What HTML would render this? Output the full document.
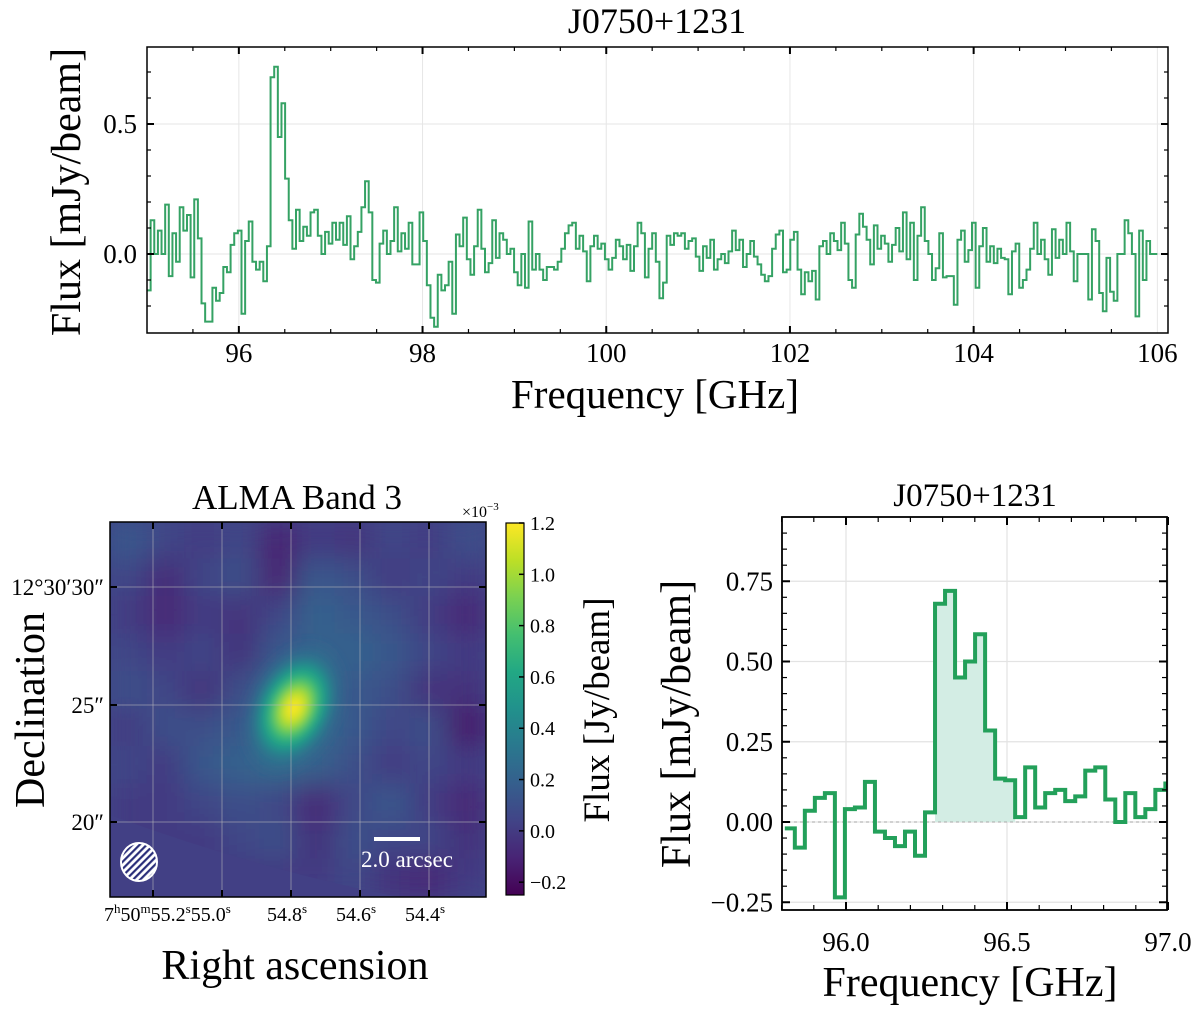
<!DOCTYPE html>
<html><head><meta charset="utf-8">
<style>
html,body{margin:0;padding:0;background:#fff;}
svg{display:block;font-family:"Liberation Serif",serif;}
</style></head>
<body>
<svg id="fig" width="1200" height="1011" viewBox="0 0 1200 1011" xmlns="http://www.w3.org/2000/svg">
<defs>
<clipPath id="clipTop"><rect x="147" y="47" width="1021" height="286"/></clipPath>
<clipPath id="clipBR"><rect x="782" y="517" width="385" height="393"/></clipPath>
<clipPath id="clipImg"><rect x="110" y="522" width="376" height="375"/></clipPath>
<filter id="blur" x="-10%" y="-10%" width="120%" height="120%"><feGaussianBlur stdDeviation="14"/></filter>
<filter id="blur2" x="-50%" y="-50%" width="200%" height="200%"><feGaussianBlur stdDeviation="4"/></filter>
<linearGradient id="cbGrad" x1="0" y1="1" x2="0" y2="0"></linearGradient>
<radialGradient id="blobGrad"></radialGradient>
<pattern id="hatch" width="5" height="5" patternUnits="userSpaceOnUse" patternTransform="rotate(45)"><rect width="5" height="5" fill="#fff"/><rect width="2.2" height="5" fill="#2b2f7a"/></pattern>
</defs>
<g id="top"></g>
<g id="img"></g>
<g id="br"></g>
</svg>
<script>
// ---- data ----
const topFreqStart = 95.0;
const topFreqEnd = 106.0;
const topValuesLow = [-0.14,0.13,0,0.09,0,0.19,-0.085,0.08,-0.03,0.18,0.09,0.15,-0.09,0.21,0.06,-0.19,-0.26,-0.26,-0.13,-0.18,-0.15,-0.05,-0.07,0.035,0.08,0.09,-0.23,0.05,0.125,-0.03,-0.06,-0.03,-0.105,0.03,0.68,0.72,0.45,0.58,0.29,0.13,0.02,0.17,0.05,0.105,0.07,0.16,0.17,0.07,0,0.085,0.04,0.12,0.055,0.12,0.035,0.145,-0.02,0.03,0.085,0.18,0.28,0.16,-0.1,-0.11,0.04,0.09,0,0.05,0.18,0.01,0.08,0.02,0.12,-0.04,-0.04,0.16,0.05,-0.12,-0.245,-0.28,-0.08,-0.14,-0.12,-0.03,-0.23,0.075,0.03,0.14,-0.02,-0.08,0.03,0.17,0.02,-0.07,-0.035,0.13,-0.015,0.08,0.055,0,0.02,-0.07,-0.12,0,-0.13,0.125,-0.06,0,-0.06,-0.1,-0.05,-0.05,-0.06,-0.03,0.02,0.08,0.11,0.12,0.02,0.07,0.01,-0.105,0.03,0.07,0.02,0.04,-0.02,-0.06,-0.015,0.055,0.03,-0.02,0.035,-0.065,0.03,0.12,0.08,-0.09,0.02,0.08,-0.03,-0.17,-0.11,0.07,0.035,0.08];
const topValuesHigh = [0.07,0.08,0.02,0.05,0.06,-0.01,-0.065,0.03,-0.015,0.055,-0.06,-0.02,0,-0.035,0.01,0.09,0.015,0.055,-0.05,0,0.05,-0.01,-0.04,-0.08,-0.105,-0.085,0.02,0.075,0.09,-0.07,-0.06,0.055,0.085,-0.06,-0.155,-0.07,-0.105,-0.065,-0.175,0.03,0.05,0,0.08,0.05,0.015,0.12,0.04,-0.1,-0.13,0.075,0.155,0.105,0.055,-0.04,0.11,0.02,0.07,0.04,-0.03,0.035,0.1,0.01,0.16,-0.02,0.12,-0.1,0.07,0.18,0.05,0,-0.1,-0.055,0.08,-0.09,-0.085,-0.085,-0.195,0.055,0.09,-0.03,0.015,0.12,-0.13,0.03,0.1,-0.03,0.03,-0.035,0.02,-0.015,-0.02,-0.155,0.01,0.04,-0.13,-0.1,-0.06,0.02,0.12,0,0.055,-0.02,-0.08,0.095,-0.015,0.055,0,0.12,0.01,-0.105,0,0,0,-0.175,0.095,0.05,-0.15,-0.22,-0.015,-0.145,-0.18,0,0,0.13,0.08,0,-0.24,0.09,-0.1,0.05,0,0];
const topXTicks = [96,98,100,102,104,106];
const topYTicks = [0.0,0.5];

const zoomFreqStart = 95.81;
const zoomChanWidth = 0.0311;
const zoomValues = [-0.02,-0.08,0.035,0.075,0.09,-0.235,0.04,0.045,0.125,-0.03,-0.05,-0.075,-0.03,-0.105,0.03,0.68,0.72,0.45,0.5,0.585,0.285,0.135,0.13,0.015,0.17,0.045,0.09,0.1,0.065,0.08,0.16,0.17,0.07,0,0.09,0.015,0.04,0.1,0.12];
const zoomLineStart = 15;
const zoomLineEnd = 22;
const zoomXTicks = [96.0,96.5,97.0];
const zoomYTicks = [-0.25,0,0.25,0.5,0.75];

const imgGrid = [
 [0.15,0.05,0.0,0.05,-0.12,0.0,-0.05,0.05,0.0,0.1],
 [0.05,-0.08,0.05,0.1,-0.12,0.15,0.1,0.0,0.05,0.0],
 [0.0,-0.1,0.0,-0.05,0.05,0.2,0.15,0.1,0.0,-0.1],
 [0.05,0.0,0.05,-0.05,0.15,0.2,0.2,0.15,0.05,0.0],
 [0.1,0.05,-0.05,0.1,0.22,0.22,0.15,0.1,-0.05,-0.05],
 [0.0,0.1,0.1,0.15,0.25,0.25,0.15,0.05,0.1,-0.15],
 [0.05,0.0,0.15,0.2,0.25,0.2,0.1,0.0,0.05,0.0],
 [0.0,0.0,0.05,0.1,0.05,-0.1,0.05,0.15,0.0,-0.1],
 [0.0,0.0,0.0,0.05,0.1,-0.05,0.1,0.05,0.05,-0.05],
 [0.0,0.0,0.0,0.0,0.0,0.0,0.05,-0.05,-0.1,0.0]
];
const imgPeak = 1.2;
const cbTicks = [-0.2,0.0,0.2,0.4,0.6,0.8,1.0,1.2];

// ---- helpers ----
const NS="http://www.w3.org/2000/svg";
function mk(parent,tag,attrs,text){const e=document.createElementNS(NS,tag);for(const k in attrs)e.setAttribute(k,attrs[k]);if(text!==undefined)e.textContent=text;parent.appendChild(e);return e;}
const vir=["#440154","#482475","#414487","#355f8d","#2a788e","#21918c","#22a884","#44bf70","#7ad151","#bddf26","#fde725"];
function hex2(c){return [parseInt(c.slice(1,3),16),parseInt(c.slice(3,5),16),parseInt(c.slice(5,7),16)];}
function viridis(t){t=Math.max(0,Math.min(1,t));const p=t*10,i=Math.min(9,Math.floor(p)),f=p-i;const a=hex2(vir[i]),b=hex2(vir[i+1]);return "rgb("+a.map((v,k)=>Math.round(v+(b[k]-v)*f)).join(",")+")";}
const cMin=-0.25,cMax=1.2;
function cmap(v){return viridis((v-cMin)/(cMax-cMin));}
function fmt(v,d){const s=Math.abs(v).toFixed(d);return (v<0?"\u2212":"")+s;}
function stepPath(vals,start,w,fx,fy){let d="";vals.forEach((v,i)=>{const x0=fx(start+i*w),x1=fx(start+(i+1)*w),y=fy(v);d+=(i===0?"M"+x0+","+y:"V"+y)+"H"+x1;});return d;}

// ---- top panel ----
(function(){
 const g=document.getElementById('top');
 const L=147,R=1168,T=47,B=333;
 const fx=f=>L+(f-95)*91.85, fy=v=>254-v*260;
 const vals=topValuesLow.concat(topValuesHigh);
 const w=(topFreqEnd-topFreqStart)/vals.length;
 const t=mk(g,'text',{x:657,y:33,'font-size':36,'text-anchor':'middle'},'J0750+1231');
 
 
 topXTicks.forEach(f=>{const l=mk(g,'line',{x1:fx(f),x2:fx(f),y1:T,y2:B,stroke:'#e6e6e6','stroke-width':1});});
 topYTicks.forEach(v=>{const l=mk(g,'line',{x1:L,x2:R,y1:fy(v),y2:fy(v),stroke:'#e6e6e6','stroke-width':1});});
 const p=mk(g,'path',{d:stepPath(vals,topFreqStart,w,fx,fy),fill:'none',stroke:'#35a264','stroke-width':2,'clip-path':'url(#clipTop)'});
 
 
 for(let f=95.5;f<106;f+=0.5){const maj=topXTicks.includes(f);const len=maj?7:4;mk(g,'line',{x1:fx(f),x2:fx(f),y1:B,y2:B-len,stroke:'#000','stroke-width':maj?2:1.2});mk(g,'line',{x1:fx(f),x2:fx(f),y1:T,y2:T+len,stroke:'#000','stroke-width':maj?2:1.2});}
 for(let k=-2;k<=7;k++){const v=k/10;const maj=(k%5===0);const len=maj?7:4;mk(g,'line',{x1:L,x2:L+len,y1:fy(v),y2:fy(v),stroke:'#000','stroke-width':maj?2:1.2});mk(g,'line',{x1:R,x2:R-len,y1:fy(v),y2:fy(v),stroke:'#000','stroke-width':maj?2:1.2});}
 const fr=mk(g,'rect',{x:L,y:T,width:R-L,height:B-T,fill:'none',stroke:'#000','stroke-width':1.5});
 
 
 topXTicks.forEach(f=>{const e=mk(g,'text',{x:fx(f),y:362,'font-size':27,'text-anchor':'middle'},String(f));});
 topYTicks.forEach(v=>{const e=mk(g,'text',{x:137,y:fy(v)+9,'font-size':27,'text-anchor':'end'},v.toFixed(1));});
 const xl=mk(g,'text',{x:655,y:408,'font-size':41,'text-anchor':'middle'},'Frequency [GHz]');
 
 
 const yl=mk(g,'text',{x:0,y:0,'font-size':42,'text-anchor':'middle',transform:'translate(80,192) rotate(-90)'},'Flux [mJy/beam]');
 
 
})();

// ---- image panel ----
(function(){
 const g=document.getElementById('img');
 const L=110,R=486,T=522,B=897;
 const t=mk(g,'text',{x:297,y:509,'font-size':35,'text-anchor':'middle'},'ALMA Band 3');
 
 
 const ig=mk(g,'g',{'clip-path':'url(#clipImg)'});
 mk(ig,'rect',{x:L,y:T,width:R-L,height:B-T,fill:cmap(0.05)});
 const bg=mk(ig,'g',{filter:'url(#blur)'});
 const nr=imgGrid.length,nc=imgGrid[0].length,cw=(R-L)/nc,ch=(B-T)/nr;
 imgGrid.forEach((row,r)=>row.forEach((v,c)=>{const e=mk(bg,'rect',{x:L+c*cw-1,y:T+r*ch-1,width:cw+2,height:ch+2,fill:cmap(v)});}));
 // blob
 const rg=document.getElementById('blobGrad');
 for(let i=0;i<=12;i++){const f=i/12;const v=0.2+(imgPeak-0.2)*Math.exp(-f*f*3.6);const op=f<0.6?1:Math.max(0,1-(f-0.6)/0.4);mk(rg,'stop',{offset:f,'stop-color':cmap(v),'stop-opacity':op});}
 const bl=mk(ig,'ellipse',{cx:294,cy:708,rx:50,ry:74,fill:'url(#blobGrad)',transform:'rotate(25 294 708)',filter:'url(#blur2)'});
 
 
 const wedge=mk(ig,'path',{d:'M110,815 Q260,870 400,897 L110,897 Z',fill:cmap(0.02)});
 
 
 const gx=[153,222,291,360,429],gy=[587,705,822];
 gx.forEach(x=>{mk(g,'line',{x1:x,x2:x,y1:T,y2:B,stroke:'#bbbbbb','stroke-opacity':0.55,'stroke-width':1});mk(g,'line',{x1:x,x2:x,y1:T,y2:T+7,stroke:'#000','stroke-width':2});mk(g,'line',{x1:x,x2:x,y1:B,y2:B-7,stroke:'#000','stroke-width':2});});
 gy.forEach(y=>{mk(g,'line',{x1:L,x2:R,y1:y,y2:y,stroke:'#bbbbbb','stroke-opacity':0.55,'stroke-width':1});mk(g,'line',{x1:L,x2:L+7,y1:y,y2:y,stroke:'#000','stroke-width':2});mk(g,'line',{x1:R,x2:R-7,y1:y,y2:y,stroke:'#000','stroke-width':2});});
 const fr=mk(g,'rect',{x:L,y:T,width:R-L,height:B-T,fill:'none',stroke:'#000','stroke-width':1.5});
 
 
 const beam=mk(g,'ellipse',{cx:139,cy:862,rx:18,ry:19,fill:'url(#hatch)',stroke:'#fff','stroke-width':2});
 
 
 const sb=mk(g,'line',{x1:374,x2:420,y1:839,y2:839,stroke:'#fff','stroke-width':4});
 
 
 const sbt=mk(g,'text',{x:407,y:867,'font-size':23,fill:'#fff','text-anchor':'middle'},'2.0 arcsec');
 
 
 const dl=[["12°30′30″",587],["25″",705],["20″",822]];
 dl.forEach(d=>{const e=mk(g,'text',{x:104,y:d[1]+8,'font-size':23,'text-anchor':'end'},d[0]);});
 const ra=mk(g,'text',{x:104,y:921,'font-size':20},'');
 
 
 ra.innerHTML='7<tspan font-size="13" dy="-8">h</tspan><tspan dy="8">50</tspan><tspan font-size="13" dy="-8">m</tspan><tspan dy="8">55.2</tspan><tspan font-size="13" dy="-8">s</tspan><tspan dy="8">55.0</tspan><tspan font-size="13" dy="-8">s</tspan>';
 [["54.8",291],["54.6",360],["54.4",429]].forEach(d=>{const e=mk(g,'text',{x:d[1]-4,y:921,'font-size':20,'text-anchor':'middle'},'');e.innerHTML=d[0]+'<tspan font-size="13" dy="-8">s</tspan>';});
 const xl=mk(g,'text',{x:295,y:979,'font-size':42,'text-anchor':'middle'},'Right ascension');
 
 
 const yl=mk(g,'text',{x:0,y:0,'font-size':42,'text-anchor':'middle',transform:'translate(44,710) rotate(-90)'},'Declination');
 
 
 // colorbar
 const cT=523,cB=895,cL=506,cR=524;
 const cy=v=>cB-(v-cMin)/(cMax-cMin)*(cB-cT);
 const lg=document.getElementById('cbGrad');
 for(let i=0;i<=10;i++)mk(lg,'stop',{offset:i/10,'stop-color':vir[i]});
 const cb=mk(g,'rect',{x:cL,y:cT,width:cR-cL,height:cB-cT,fill:'url(#cbGrad)',stroke:'#000','stroke-width':1.2});
 
 
 cbTicks.forEach(v=>{mk(g,'line',{x1:cR-5,x2:cR,y1:cy(v),y2:cy(v),stroke:'#000','stroke-width':1.5});const e=mk(g,'text',{x:530,y:cy(v)+7,'font-size':20},fmt(v,1));});
 const ex=mk(g,'text',{x:462,y:517,'font-size':16},'');
 ex.innerHTML='×10<tspan font-size="11" dy="-7">−3</tspan>';
 
 
 const cl=mk(g,'text',{x:0,y:0,'font-size':37,'text-anchor':'middle',transform:'translate(609,710) rotate(-90)'},'Flux [Jy/beam]');
 
 
})();

// ---- bottom-right zoom spectrum ----
(function(){
 const g=document.getElementById('br');
 const L=782,R=1167,T=517,B=910;
 const fx=f=>846+(f-96)*322, fy=v=>822-v*321;
 const t=mk(g,'text',{x:975,y:506,'font-size':33,'text-anchor':'middle'},'J0750+1231');
 
 
 zoomXTicks.forEach(f=>{mk(g,'line',{x1:fx(f),x2:fx(f),y1:T,y2:B,stroke:'#e3e3e3','stroke-width':1.2});});
 zoomYTicks.forEach(v=>{mk(g,'line',{x1:L,x2:R,y1:fy(v),y2:fy(v),stroke:'#e3e3e3','stroke-width':1.2});});
 let d="M"+fx(zoomFreqStart+zoomLineStart*zoomChanWidth)+","+fy(0);
 for(let i=zoomLineStart;i<=zoomLineEnd;i++){const x1=fx(zoomFreqStart+(i+1)*zoomChanWidth);d+="V"+fy(zoomValues[i])+"H"+x1;}
 d+="V"+fy(0)+"Z";
 const sh=mk(g,'path',{d:d,fill:'#d3ede4','clip-path':'url(#clipBR)'});
 
 
 const z=mk(g,'line',{x1:L,x2:R,y1:fy(0),y2:fy(0),stroke:'#aaaaaa','stroke-width':1,'stroke-dasharray':'3,3'});
 
 
 const p=mk(g,'path',{d:stepPath(zoomValues,zoomFreqStart,zoomChanWidth,fx,fy),fill:'none',stroke:'#23a05a','stroke-width':4,'clip-path':'url(#clipBR)'});
 
 
 for(let k=958;k<=970;k++){const f=k/10;const maj=zoomXTicks.some(x=>Math.abs(x-f)<1e-6);const len=maj?8:5;mk(g,'line',{x1:fx(f),x2:fx(f),y1:B,y2:B-len,stroke:'#000','stroke-width':maj?2:1.2});mk(g,'line',{x1:fx(f),x2:fx(f),y1:T,y2:T+len,stroke:'#000','stroke-width':maj?2:1.2});}
 for(let k=-5;k<=18;k++){const v=k*0.05;if(fy(v)<T||fy(v)>B)continue;const maj=(k%5===0);const len=maj?8:5;mk(g,'line',{x1:L,x2:L+len,y1:fy(v),y2:fy(v),stroke:'#000','stroke-width':maj?2:1.2});mk(g,'line',{x1:R,x2:R-len,y1:fy(v),y2:fy(v),stroke:'#000','stroke-width':maj?2:1.2});}
 const fr=mk(g,'rect',{x:L,y:T,width:R-L,height:B-T,fill:'none',stroke:'#000','stroke-width':1.8});
 
 
 zoomXTicks.forEach(f=>{const e=mk(g,'text',{x:fx(f),y:951,'font-size':27,'text-anchor':'middle'},f.toFixed(1));});
 zoomYTicks.forEach(v=>{const e=mk(g,'text',{x:773,y:fy(v)+9,'font-size':27,'text-anchor':'end'},fmt(v,2));});
 const xl=mk(g,'text',{x:970,y:996,'font-size':42,'text-anchor':'middle'},'Frequency [GHz]');
 
 
 const yl=mk(g,'text',{x:0,y:0,'font-size':42,'text-anchor':'middle',transform:'translate(690,724) rotate(-90)'},'Flux [mJy/beam]');
 
 
})();
</script>
</body></html>
